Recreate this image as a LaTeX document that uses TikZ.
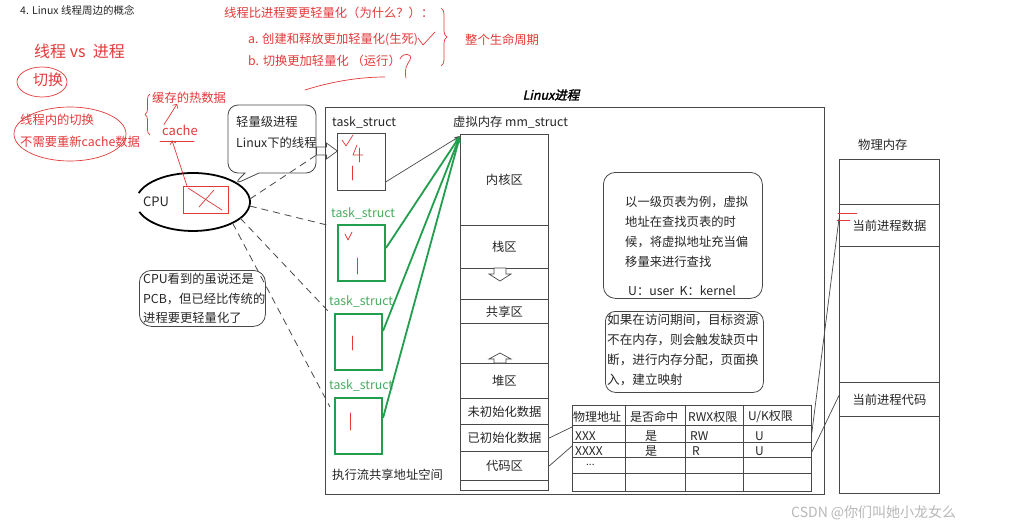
\documentclass[tikz,border=0pt]{standalone}
\usepackage{fontspec}
\setmainfont{Noto Sans CJK SC}
\newfontfamily\cjkbi{Noto Sans CJK SC}[FakeSlant=0.22,FakeBold=2]
\usetikzlibrary{arrows.meta,shapes.geometric,shapes.callouts,decorations.pathreplacing,calc}
\definecolor{hred}{RGB}{226,58,58}
\definecolor{hgreen}{RGB}{34,158,78}
\definecolor{lgreen}{RGB}{70,172,95}
\definecolor{edge}{RGB}{72,72,72}
\begin{document}
\begin{tikzpicture}[x=1pt,y=-1pt,
  txt/.style={inner sep=0pt, anchor=west, text=black!85, font=\fontsize{12.3}{14}\selectfont},
  rtxt/.style={txt, text=hred},
  gtxt/.style={txt, text=lgreen},
  seg/.style={draw=edge, line width=0.8pt, minimum width=88pt, inner sep=0pt, anchor=north west, text=black!85, font=\fontsize{12.3}{14}\selectfont},
  pseg/.style={seg, minimum width=100pt},
  tbox/.style={draw=edge, line width=0.8pt, inner sep=0pt, anchor=north west, minimum width=48pt, minimum height=57pt},
  gtbox/.style={tbox, draw=hgreen, line width=2pt, minimum width=47pt, minimum height=56pt},
  rmark/.style={hred, line width=0.7pt, line cap=round, line join=round},
  dline/.style={edge, line width=0.8pt, dash pattern=on 7pt off 5pt},
  glink/.style={hgreen, line width=1.8pt, -{Stealth[length=7pt,width=5pt]}},
  rbox/.style={draw=edge, line width=0.8pt, rounded corners=12pt, anchor=north west, inner sep=0pt},
  thin/.style={edge, line width=0.7pt}
]
\useasboundingbox (0,0) rectangle (1025,532);
\fill[white] (0,0) rectangle (1025,532);

\node[txt, text=black!28, font=\fontsize{14}{16}\selectfont] (csdn) at (791,513) {CSDN @你们叫她小龙女么};

% top-left notes
\node[txt, font=\fontsize{10.5}{12}\selectfont] (title) at (20,10) {4. Linux 线程周边的概念};
\node[rtxt, font=\fontsize{16}{18}\selectfont] (vs) at (34,51) {线程 vs\ \ 进程};
\node[rtxt, font=\fontsize{15}{18}\selectfont] (qh) at (33,80) {切换};
\draw[rmark] (42,82) ellipse [x radius=25pt, y radius=15pt];
\node[rtxt] (inner) at (20,120) {线程内的切换};
\node[rtxt] (nocache) at (20,142) {不需要重新cache数据};
\draw[rmark] (70,134) ellipse [x radius=56pt, y radius=27pt];
\node[rtxt] (hot) at (152,98) {缓存的热数据};
\node[rtxt, font=\fontsize{13}{15}\selectfont] (cache) at (162,130) {cache};
\draw[rmark, decorate, decoration={brace, amplitude=5pt}] (150,135) -- (150,94);
\draw[rmark] (160,141) -- (194,141);
\draw[rmark, -{Straight Barb[length=3pt]}] ($(cache.north west)+(2,0)$) -- ($(hot.south)+(-12,0)$);

% top middle notes
\node[rtxt] (why) at (224,13) {线程比进程要更轻量化（为什么？）：};
\node[rtxt] (la) at (248,40) {a. 创建和释放更加轻量化(生死)};
\node[rtxt] (lb) at (248,61) {b. 切换更加轻量化 （运行）};
\draw[rmark] (418,38) -- (423,45) -- (435,32);
\draw[rmark] (400,59) .. controls (403,52) and (413,53) .. (410,60) .. controls (407,65) and (404,68) .. (406,78);
\draw[rmark, decorate, decoration={brace, amplitude=6pt}] (441,8) -- (441,66);
\node[rtxt] (life) at (465,40) {整个生命周期};
\draw[rmark] (305,90) .. controls (330,82) and (358,77) .. (385,77);

% CPU
\node[draw=none, ellipse, minimum width=114pt, minimum height=58pt, inner sep=0pt] (cpuell) at (193,202) {};
\draw[black, line width=1.8pt] ($(cpuell.center)+(-53.6,9.9)$) arc [start angle=200, end angle=522, x radius=57pt, y radius=29pt];
\node[txt, font=\fontsize{13}{15}\selectfont] (cpu) at (143,202) {CPU};
\node[draw=hred, line width=0.7pt, minimum width=45pt, minimum height=27pt, anchor=north west, inner sep=0pt] (cpubox) at (183,186) {};
\draw[rmark] (188,188) -- (222,210);
\draw[rmark] (214,190) -- (199,207);
\draw[rmark, -{Straight Barb[length=3pt]}] ($(cpubox.north west)+(4,0)$) -- ($(cache.south west)+(10,5)$);

% callouts
\node[rectangle callout, draw=edge, line width=0.8pt, rounded corners=10pt, minimum width=88pt, minimum height=68pt, inner sep=0pt, callout absolute pointer={(233,185)}, callout pointer width=14pt, fill=white] (c1) at (272,139) {};
\node[txt] (c1a) at (236,122) {轻量级进程};
\node[txt] (c1b) at (236,143) {Linux下的线程};
\draw[thin, fill=white] ($(c1.east)+(0,8)$) -- ++(10,0) -- ++(0,-4) -- ++(11,8) -- ++(-11,8) -- ++(0,-4) -- ++(-10,0) -- cycle;

\node[rbox, minimum width=126pt, minimum height=56pt] (c2) at (139,270) {};
\node[txt] (c2a) at (143,279) {CPU看到的虽说还是};
\node[txt] (c2b) at (143,299) {PCB，但已经比传统的};
\node[txt] (c2c) at (143,318) {进程要更轻量化了};

% main process frame
\node[draw=edge, line width=0.8pt, anchor=north west, inner sep=0pt, minimum width=499pt, minimum height=387pt] (main) at (325,107) {};
\node[inner sep=0pt, text=black, font=\cjkbi\fontsize{12.5}{14}\selectfont] (mtitle) at (551,95) {Linux进程};

% task structs
\node[txt] (ts1) at (332,122) {task\_struct};
\node[tbox] (t1) at (337,133) {};
\node[gtxt] (ts2) at (331,213) {task\_struct};
\node[gtbox] (t2) at (337,224) {};
\node[gtxt] (ts3) at (329,301) {task\_struct};
\node[gtbox] (t3) at (334,313) {};
\node[gtxt] (ts4) at (329,385) {task\_struct};
\node[gtbox] (t4) at (334,397) {};
\node[txt] (share) at (332,475) {执行流共享地址空间};

% red marks in task boxes
\draw[rmark] (342,140) -- (346,146) -- (353,135);
\draw[rmark] (357,145) -- (353,155) -- (363,155);
\draw[rmark] (359,148) -- (359,162);
\draw[rmark] (352,166) -- (352,180);
\draw[rmark] (345,234) -- (348,240) -- (352,232);
\draw[rmark] (357,258) -- (357,274);
\draw[rmark] (352,336) -- (352,350);
\draw[rmark] (350,413) -- (350,430);

% virtual memory column
\node[txt] (mml) at (453,122) {虚拟内存 mm\_struct};
\node[seg, minimum height=91pt] (kern) at (460,134) {内核区};
\node[seg, minimum height=43pt] (stack) at (460,225) {栈区};
\node[seg, minimum height=31pt] (gap1) at (460,268) {};
\node[seg, minimum height=24pt] (shared) at (460,299) {共享区};
\node[seg, minimum height=40pt] (gap2) at (460,323) {};
\node[seg, minimum height=35pt] (heap) at (460,363) {堆区};
\node[seg, line width=1.1pt, minimum height=26pt] (bss) at (460,398) {未初始化数据};
\node[seg, line width=1.1pt, minimum height=27pt] (data) at (460,424) {已初始化数据};
\node[seg, line width=1.1pt, minimum height=29pt] (code) at (460,451) {代码区};
\node[seg, minimum height=10pt] (bot) at (460,480) {};
\draw[thin, fill=white] (494,268) -- (506,268) -- (506,274) -- (511,274) -- (500,281) -- (489,274) -- (494,274) -- cycle;
\draw[thin, fill=white] (500,353) -- (511,359) -- (506,359) -- (506,363) -- (494,363) -- (494,359) -- (489,359) -- cycle;

% links task -> mm
\draw[edge, line width=0.7pt, -{Stealth[length=6pt,width=4pt]}] ($(t1.east)+(0,20)$) -- ($(kern.north west)+(0,2)$);
\draw[glink] ($(t2.east)+(0,-5)$) -- ($(kern.north west)+(0,2)$);
\draw[glink] ($(t3.east)+(0,-11)$) -- ($(kern.north west)+(0,2)$);
\draw[glink] ($(t4.east)+(0,-8)$) -- ($(kern.north west)+(0,2)$);

% dashed lines cpu -> tasks
\draw[dline] (cpuell.3) -- ($(c1.east)+(0,16)$);
\draw[dline] (cpuell.-4) -- ($(t2.north west)+(-6,2)$);
\draw[dline] (cpuell.-19) -- ($(t3.north west)+(-6,-2)$);
\draw[dline] (cpuell.-28) -- ($(t4.north west)+(-4,10)$);

% right notes
\node[rbox, minimum width=159pt, minimum height=126pt] (r1) at (603,172) {};
\node[txt] (r1a) at (625,202) {以一级页表为例，虚拟};
\node[txt] (r1b) at (625,222) {地址在查找页表的时};
\node[txt] (r1c) at (625,242) {候，将虚拟地址充当偏};
\node[txt] (r1d) at (625,262) {移量来进行查找};
\node[txt] (r1e) at (628,291) {U：user\ \ K：kernel};
\node[rbox, rounded corners=10pt, minimum width=158pt, minimum height=81pt] (r2) at (605,311) {};
\node[txt, font=\fontsize{12.6}{14}\selectfont] (r2a) at (607,320) {如果在访问期间，目标资源};
\node[txt, font=\fontsize{12.6}{14}\selectfont] (r2b) at (607,340) {不在内存，则会触发缺页中};
\node[txt, font=\fontsize{12.6}{14}\selectfont] (r2c) at (607,360) {断，进行内存分配，页面换};
\node[txt, font=\fontsize{12.6}{14}\selectfont] (r2d) at (607,380) {入，建立映射};

% page table
\node[draw=edge, line width=0.8pt, anchor=north west, inner sep=0pt, minimum width=239pt, minimum height=86pt] (tbl) at (572,405) {};
\foreach \yy in {425,442,457,473} \draw[thin] (572,\yy) -- (811,\yy);
\foreach \xx in {625,685,743} \draw[thin] (\xx,405) -- (\xx,491);
\node[txt, font=\fontsize{12}{14}\selectfont] (h1) at (573,417) {物理地址};
\node[txt, font=\fontsize{12}{14}\selectfont] (h2) at (630,417) {是否命中};
\node[txt, font=\fontsize{12}{14}\selectfont] (h3) at (688,417) {RWX权限};
\node[txt, font=\fontsize{12}{14}\selectfont] (h4) at (748,417) {U/K权限};
\node[txt, font=\fontsize{12}{14}\selectfont] (a1) at (575,436) {XXX};
\node[txt, font=\fontsize{12}{14}\selectfont] (a2) at (645,436) {是};
\node[txt, font=\fontsize{12}{14}\selectfont] (a3) at (690,436) {RW};
\node[txt, font=\fontsize{12}{14}\selectfont] (a4) at (755,436) {U};
\node[txt, font=\fontsize{12}{14}\selectfont] (b1) at (575,451) {XXXX};
\node[txt, font=\fontsize{12}{14}\selectfont] (b2) at (645,451) {是};
\node[txt, font=\fontsize{12}{14}\selectfont] (b3) at (692,451) {R};
\node[txt, font=\fontsize{12}{14}\selectfont] (b4) at (755,451) {U};
\node[txt, font=\fontsize{10}{12}\selectfont] (c1d) at (586,465) {...};

% physical memory
\node[txt] (pml) at (858,145) {物理内存};
\node[pseg, minimum height=45pt] (pm0) at (839,159) {};
\node[pseg, minimum height=42pt] (pdata) at (839,204) {当前进程数据};
\node[pseg, minimum height=136pt] (pm1) at (839,246) {};
\node[pseg, minimum height=34pt] (pcode) at (839,382) {当前进程代码};
\node[pseg, minimum height=77pt] (pm2) at (839,416) {};
\draw[rmark] (838,213) -- (857,213);
\draw[rmark] (837,220) -- (850,220);

% mapping lines
\draw[thin] (data.east) -- ($(tbl.north west)+(0,22)$);
\draw[thin] (code.east) -- ($(tbl.north west)+(0,41)$);
\draw[thin] ($(tbl.north east)+(0,28)$) -- ($(pdata.west)+(0,-7)$);
\draw[thin] ($(tbl.north east)+(0,47)$) -- ($(pcode.west)+(0,-4)$);
\end{tikzpicture}
\end{document}
